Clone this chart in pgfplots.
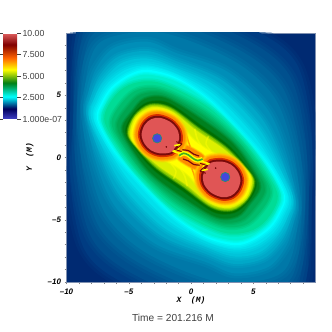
\documentclass[border=0pt]{standalone}
\usepackage{pgfplots}
\pgfplotsset{compat=1.18}
\usepackage{fontspec}
\setmainfont{Liberation Sans}
\newfontfamily\monofnt{Liberation Mono}
\definecolor{inkgray}{HTML}{404040}
\definecolor{framegray}{HTML}{7F90B0}
\definecolor{bgnavy}{HTML}{002A72}
\definecolor{lA}{HTML}{003C82}
\definecolor{lB}{HTML}{00508E}
\definecolor{lC}{HTML}{00639A}
\definecolor{lD}{HTML}{0078A8}
\definecolor{lE}{HTML}{008EB8}
\definecolor{lF}{HTML}{00A8C8}
\definecolor{lG}{HTML}{00C4DA}
\definecolor{lH}{HTML}{00E0EC}
\definecolor{lI}{HTML}{00FFFF}
\definecolor{lJ}{HTML}{00F0D0}
\definecolor{lK}{HTML}{00DC96}
\definecolor{lL}{HTML}{00BE6E}
\definecolor{lM}{HTML}{00A550}
\definecolor{lN}{HTML}{00801E}
\definecolor{lO}{HTML}{006E00}
\definecolor{lP}{HTML}{80C800}
\definecolor{lQ}{HTML}{DCF000}
\definecolor{lR}{HTML}{FFFF00}
\definecolor{lS}{HTML}{FFC800}
\definecolor{lT}{HTML}{FF8C00}
\definecolor{lU}{HTML}{D83000}
\definecolor{ringred}{HTML}{7A0A0A}
\definecolor{pink}{HTML}{E05555}
\definecolor{holeblue}{HTML}{4646DC}
\definecolor{holerim}{HTML}{2E8A70}
\definecolor{sgreen}{HTML}{40B020}
\newcommand\lvl[2]{\addplot[fill=#1,draw=none,smooth cycle,tension=0.55,forget plot] coordinates {#2};}
% same, with a soft outer edge of two wide see-through strokes
\newcommand\soft[4]{%
  \addplot[draw=#1,draw opacity=.3,line width=#2bp,smooth cycle,tension=0.55,forget plot] coordinates {#4};
  \addplot[draw=#1,draw opacity=.45,line width=#3bp,smooth cycle,tension=0.55,forget plot] coordinates {#4};
  \lvl{#1}{#4}}
\newcommand\streak[4]{\addplot[draw=#1,line width=#2,draw opacity=#3,line join=round,smooth,forget plot] coordinates {#4};}
\pgfplotsset{
  colormap={paraview}{
    rgb255(0cm)=(64,64,200);
    rgb255(1.2cm)=(0,0,90);
    rgb255(2.6cm)=(0,255,255);
    rgb255(4.2cm)=(0,125,20);
    rgb255(5.75cm)=(255,255,0);
    rgb255(7.1cm)=(255,100,0);
    rgb255(8.65cm)=(128,0,0);
    rgb255(10cm)=(224,96,96)
  }
}
\begin{document}
\begin{tikzpicture}
\path[use as bounding box] (0,0) rectangle (332bp,332bp);
\begin{axis}[
  at={(66.5bp,50bp)},anchor=south west,
  scale only axis,width=249bp,height=249bp,
  xmin=-10,xmax=10,ymin=-10,ymax=10,
  axis background/.style={fill=bgnavy},
  axis line style={draw=framegray,line width=0.4bp},
  xtick={-10,-5,0,5},ytick={-5,0,5,-10},
  xticklabels={{\textendash10},{\textendash5},0,5},
  yticklabels={{\textendash5},0,5,{\textendash10}},
  minor xtick={-9,-8,-7,-6,-4,-3,-2,-1,1,2,3,4,6,7,8,9},
  minor ytick={-9,-8,-7,-6,-4,-3,-2,-1,1,2,3,4,6,7,8,9},
  tick align=outside,xtick pos=bottom,ytick pos=left,
  major tick length=2bp,minor tick length=2bp,
  tick style={draw=gray,line width=0.3bp},
  tick label style={font=\fontsize{8}{8}\selectfont\bfseries\itshape,text=black},
  xticklabel style={yshift=-1bp},
  xlabel={\monofnt\bfseries\itshape X\ \ (M)},
  ylabel={\monofnt\bfseries\itshape Y\ \ (M)},
  label style={font=\fontsize{8}{8}\selectfont},
  xlabel style={at={(axis description cs:0.5,-0.074)},anchor=center},
  ylabel style={at={(axis description cs:-0.147,0.5)},anchor=center},
  colormap name=paraview,
  colorbar,point meta min=0,point meta max=10,
  colorbar style={
    at={(-0.255,1)},anchor=north west,
    width=14bp,height=86bp,
    ytick={0,2.5,5,7.5,10},
    yticklabels={1.000e-07,2.500,5.000,7.500,10.00},
    yticklabel pos=right,
    ytick style={draw=inkgray,line width=0.3bp},
    major tick length=4bp,
    tick align=outside,
    axis line style={draw=none},
    yticklabel style={font=\fontsize{8.8}{8.8}\selectfont,text=inkgray,xshift=-2bp},
  },
]
% outer blue levels
\soft{lA}{12}{6}{(-9.3,9.6)(-8,12)(-2,13)(5,10.3)(8.5,7.5)(9.7,2)(9.5,-3)(9.3,-9.6)(8,-12)(2,-13)(-5,-10.3)(-8.5,-7.5)(-9.7,-2)(-9.5,3)}
\soft{lB}{12}{6}{(-8.91,9)(-7.55,11.2)(-2.08,12)(4.48,9.45)(7.9,6.61)(9.19,1.58)(9.23,-3.12)(8.91,-9)(7.55,-11.2)(2.08,-12)(-4.48,-9.45)(-7.9,-6.61)(-9.19,-1.58)(-9.23,3.12)}
\soft{lC}{12}{6}{(-8.52,8.4)(-7.1,10.4)(-2.15,11)(3.95,8.6)(7.3,5.72)(8.68,1.16)(8.96,-3.24)(8.52,-8.4)(7.1,-10.4)(2.15,-11)(-3.95,-8.6)(-7.3,-5.72)(-8.68,-1.16)(-8.96,3.24)}
\soft{lD}{12}{6}{(-8.13,7.8)(-6.65,9.6)(-2.23,10)(3.43,7.76)(6.7,4.82)(8.17,.74)(8.69,-3.36)(8.13,-7.8)(6.65,-9.6)(2.23,-10)(-3.43,-7.76)(-6.7,-4.82)(-8.17,-.74)(-8.69,3.36)}
\soft{lE}{10}{5}{(-8.45,3.48)(-8.25,5.2)(-7.65,7.1)(-6.2,8.8)(-3.5,9.3)(-1.2,8.4)(2.9,6.91)(6.1,3.93)(7.66,.32)(8.45,-3.48)(8.25,-5.2)(7.65,-7.1)(6.2,-8.8)(3.5,-9.3)(1.2,-8.4)(-2.9,-6.91)(-6.1,-3.93)(-7.66,-.32)}
\soft{lF}{8}{4}{(-8.25,3.4)(-8,5)(-7.3,6.65)(-5.84,8.1)(-3.5,8.55)(-1.2,7.75)(2.48,6.23)(5.62,3.22)(7.25,-.02)(8.25,-3.4)(8,-5)(7.3,-6.65)(5.84,-8.1)(3.5,-8.55)(1.2,-7.75)(-2.48,-6.23)(-5.62,-3.22)(-7.25,.02)}
\soft{lG}{8}{4}{(-8.05,3.3)(-7.75,4.8)(-7,6.25)(-5.54,7.6)(-3.5,7.95)(-1.2,7.2)(2.13,5.67)(5.22,2.62)(6.91,-.3)(8.05,-3.3)(7.75,-4.8)(7,-6.25)(5.54,-7.6)(3.5,-7.95)(1.2,-7.2)(-2.13,-5.67)(-5.22,-2.62)(-6.91,.3)}
\soft{lH}{8}{4}{(-7.87,3.2)(-7.5,4.6)(-6.7,5.95)(-5.24,7.05)(-3.5,7.4)(-1.2,6.75)(1.78,5.1)(4.82,2.03)(6.57,-.58)(7.87,-3.2)(7.5,-4.6)(6.7,-5.95)(5.24,-7.05)(3.5,-7.4)(1.2,-6.75)(-1.78,-5.1)(-4.82,-2.03)(-6.57,.58)}
% cyan ridge
\soft{lI}{6}{3}{(-7.55,3.1)(-7.2,4.4)(-6.4,5.65)(-5,6.65)(-3.5,7.05)(-1.15,6.4)(1.5,4.65)(4.5,1.55)(6.4,-.8)(7.55,-3.1)(7.2,-4.4)(6.4,-5.65)(5,-6.65)(3.5,-7.05)(1.15,-6.4)(-1.5,-4.65)(-4.5,-1.55)(-6.4,.8)}
% cyan to green
\soft{lJ}{5}{2.5}{(-7.25,3)(-6.9,4.25)(-6.15,5.4)(-4.8,6.35)(-3.4,6.65)(-1.1,6.05)(1.41,4.4)(4.32,1.49)(6.12,-.83)(7.25,-3)(6.9,-4.25)(6.15,-5.4)(4.8,-6.35)(3.4,-6.65)(1.1,-6.05)(-1.41,-4.4)(-4.32,-1.49)(-6.12,.83)}
\soft{lK}{6}{3}{(-6.97,3.1)(-6.07,5.0)(-4.57,5.97)(-2.33,5.95)(1.3,4.1)(4.1,1.42)(5.84,-.87)(6.97,-3.1)(6.07,-5.0)(4.57,-5.97)(2.33,-5.95)(-1.3,-4.1)(-4.1,-1.42)(-5.84,.87)}
\soft{lL}{6}{3}{(-6.38,2.8)(-5.5,4.45)(-4.22,5.46)(-2.2,5.41)(1.14,3.66)(3.78,1.31)(5.46,-.92)(6.38,-2.8)(5.5,-4.45)(4.22,-5.46)(2.2,-5.41)(-1.14,-3.66)(-3.78,-1.31)(-5.46,.92)}
\soft{lM}{5}{2.5}{(-5.94,2.6)(-5.05,4.1)(-3.96,5.08)(-2.1,5.08)(1.02,3.33)(3.54,1.23)(5.18,-.96)(5.94,-2.6)(5.05,-4.1)(3.96,-5.08)(2.1,-5.08)(-1.02,-3.33)(-3.54,-1.23)(-5.18,.96)}
\soft{lN}{4}{2}{(-5.5,2.4)(-4.7,3.65)(-3.7,4.7)(-2,4.75)(.9,3)(3.3,1.15)(4.9,-1)(5.5,-2.4)(4.7,-3.65)(3.7,-4.7)(2,-4.75)(-.9,-3)(-3.3,-1.15)(-4.9,1)}
% green to yellow
\soft{lO}{2}{1}{(-5.24,2.14)(-4.6,3.5)(-3.46,4.42)(-1.79,4.34)(.69,2.63)(2.99,.96)(4.55,-.86)(5.24,-2.14)(4.6,-3.5)(3.46,-4.42)(1.79,-4.34)(-.69,-2.63)(-2.99,-.96)(-4.55,.86)}
\soft{lP}{3}{1.5}{(-5.06,1.95)(-4.5,3.35)(-3.28,4.22)(-1.64,3.96)(.54,2.37)(2.76,.82)(4.3,-.76)(5.06,-1.95)(4.5,-3.35)(3.28,-4.22)(1.64,-3.96)(-.54,-2.37)(-2.76,-.82)(-4.3,.76)}
\soft{lQ}{3}{1.5}{(-4.91,1.8)(-4.45,3.25)(-3.14,4.06)(-1.52,3.7)(.42,2.16)(2.58,.71)(4.1,-.68)(4.91,-1.8)(4.45,-3.25)(3.14,-4.06)(1.52,-3.7)(-.42,-2.16)(-2.58,-.71)(-4.1,.68)}
\soft{lR}{3}{1.5}{(-4.76,1.65)(-4.35,3.15)(-3,3.9)(-1.4,3.44)(.1,1.5)(1.8,.35)(3.9,-.6)(4.76,-1.65)(4.35,-3.15)(3,-3.9)(1.4,-3.44)(-.1,-1.5)(-1.8,-.35)(-3.9,.6)}
% neck
\soft{lT}{3}{1.5}{(-1.5,1.2)(-.5,1)(.4,.55)(1.1,0)(1.5,-1.2)(.5,-1)(-.4,-.55)(-1.1,0)}
% feathers across the neck
\streak{lR}{1.6bp}{.5}{(.3,2.3)(.5,1.5)(.9,.8)}
\streak{lR}{1.6bp}{.5}{(-.3,-2.3)(-.5,-1.5)(-.9,-.8)}
\streak{lR}{1.4bp}{.5}{(1.4,1.7)(1.2,1.1)(1.6,.5)}
\streak{lR}{1.4bp}{.5}{(-1.4,-1.7)(-1.2,-1.1)(-1.6,-.5)}
\streak{lT}{1.4bp}{.8}{(-.45,2.0)(-.25,1.4)(-.06,.87)}
\streak{lT}{1.4bp}{.8}{(.45,-2.0)(.25,-1.4)(.06,-.87)}
\streak{lU}{.9bp}{.7}{(-.75,2.2)(-.55,1.6)(-.5,1)}
\streak{lU}{.9bp}{.7}{(.75,-2.2)(.55,-1.6)(.5,-1)}
% lobes round the two holes
\soft{lS}{3}{1.5}{(-4.6,1.86)(-4.26,2.95)(-3.5,3.64)(-2.48,3.78)(-1.28,3.3)(-.48,2.37)(-.32,1.34)(-.7,.48)(-1.28,-.13)(-2.48,-.28)(-3.5,.07)(-4.26,.83)}
\soft{lS}{3}{1.5}{(4.6,-1.86)(4.26,-2.95)(3.5,-3.64)(2.48,-3.78)(1.28,-3.3)(.48,-2.37)(.32,-1.34)(.7,-.48)(1.28,.13)(2.48,.28)(3.5,-.07)(4.26,-.83)}
\soft{lT}{3}{1.5}{(-4.44,1.85)(-4.12,2.86)(-3.42,3.49)(-2.48,3.62)(-1.37,3.18)(-.64,2.33)(-.49,1.37)(-.84,.58)(-1.37,.01)(-2.48,-.12)(-3.42,.2)(-4.12,.9)}
\soft{lT}{3}{1.5}{(4.44,-1.85)(4.12,-2.86)(3.42,-3.49)(2.48,-3.62)(1.37,-3.18)(.64,-2.33)(.49,-1.37)(.84,-.58)(1.37,-.01)(2.48,.12)(3.42,-.2)(4.12,-.9)}
\lvl{lU}{(-4.27,1.85)(-3.98,2.76)(-3.34,3.35)(-2.48,3.47)(-1.46,3.06)(-.8,2.28)(-.65,1.4)(-.98,.68)(-1.46,.16)(-2.48,.04)(-3.34,.33)(-3.98,.97)}
\lvl{lU}{(4.27,-1.85)(3.98,-2.76)(3.34,-3.35)(2.48,-3.47)(1.46,-3.06)(.8,-2.28)(.65,-1.4)(.98,-.68)(1.46,-.16)(2.48,-.04)(3.34,-.33)(3.98,-.97)}
\lvl{ringred}{(-4.14,1.84)(-3.87,2.69)(-3.28,3.23)(-2.48,3.34)(-1.54,2.96)(-.92,2.24)(-.79,1.43)(-1.09,.76)(-1.54,.28)(-2.48,.17)(-3.28,.44)(-3.87,1.03)}
\lvl{ringred}{(4.14,-1.84)(3.87,-2.69)(3.28,-3.23)(2.48,-3.34)(1.54,-2.96)(.92,-2.24)(.79,-1.43)(1.09,-.76)(1.54,-.28)(2.48,-.17)(3.28,-.44)(3.87,-1.03)}
\lvl{pink}{(-3.97,1.83)(-3.73,2.6)(-3.2,3.08)(-2.48,3.18)(-1.64,2.84)(-1.08,2.2)(-.96,1.46)(-1.23,.86)(-1.62,.42)(-2.48,.33)(-3.2,.57)(-3.73,1.1)}
\lvl{pink}{(3.97,-1.83)(3.73,-2.6)(3.2,-3.08)(2.48,-3.18)(1.64,-2.84)(1.08,-2.2)(.96,-1.46)(1.23,-.86)(1.62,-.42)(2.48,-.33)(3.2,-.57)(3.73,-1.1)}
% zigzags either side of the centre
\addplot[draw=lR,line width=1.6bp,line join=round,forget plot] coordinates {(-1.34,.95)(-.85,1.05)(-1.05,.62)(-1.45,.5)(-.75,.28)};
\addplot[draw=lR,line width=1.6bp,line join=round,forget plot] coordinates {(1.34,-.95)(.85,-1.05)(1.05,-.62)(1.45,-.5)(.75,-.28)};
\addplot[draw=ringred,line width=1bp,line join=round,forget plot] coordinates {(-1.19,1.27)(-.73,1.09)(-1,.82)(-1.34,.66)(-.73,.47)};
\addplot[draw=ringred,line width=1bp,line join=round,forget plot] coordinates {(1.19,-1.27)(.73,-1.09)(1,-.82)(1.34,-.66)(.73,-.47)};
% central S
\streak{lR}{4.4bp}{1}{(-.95,.15)(-.6,.34)(-.2,.2)(.15,-.07)(.53,-.25)(.93,-.12)}
\streak{ringred}{1.2bp}{1}{(-.7,.62)(-.2,.55)(.2,.28)(.65,.12)}
\streak{ringred}{1.2bp}{1}{(.7,-.62)(.2,-.55)(-.2,-.28)(-.65,-.12)}
\streak{sgreen}{1.6bp}{1}{(-.95,.15)(-.6,.34)(-.2,.2)(.15,-.07)(.53,-.25)(.93,-.12)}
% small marks and holes
\addplot[only marks,mark=*,mark size=.6bp,color=ringred,forget plot] coordinates {(-1.98,.85)(1.98,-.85)};
\addplot[only marks,mark=*,mark size=4.6bp,mark options={fill=holeblue,draw=holerim,line width=.7bp},forget plot] coordinates {(-2.72,1.54)(2.75,-1.57)};
\end{axis}
\node[font=\fontsize{10.2}{10.2}\selectfont,text=inkgray,anchor=center] at (173bp,14bp) {Time = 201.216 M};
\end{tikzpicture}
\end{document}
